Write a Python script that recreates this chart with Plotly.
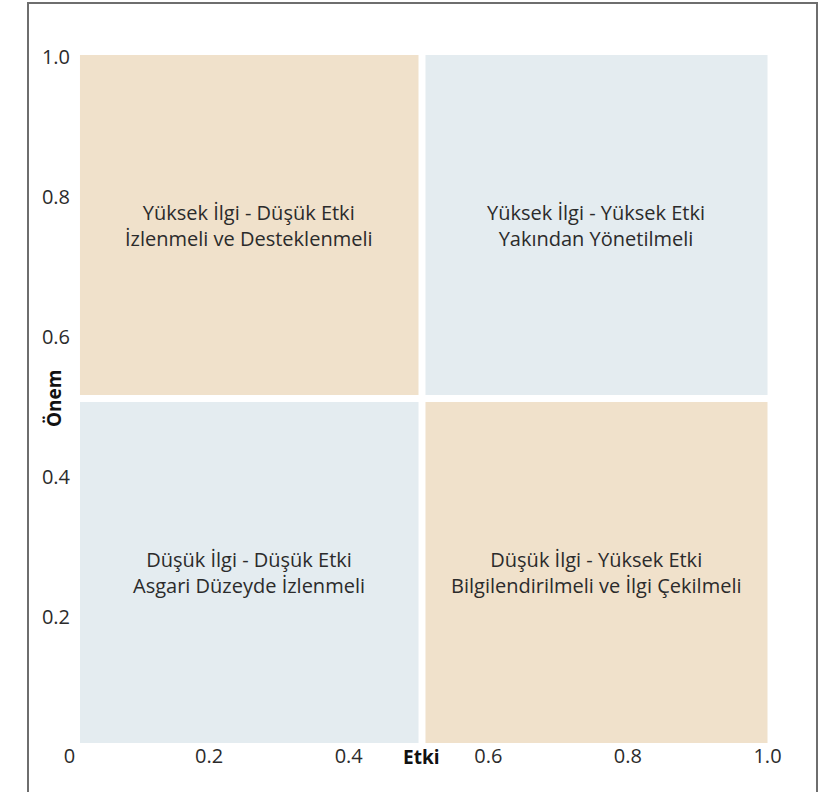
import plotly.graph_objects as go

# ---- data ----
quadrant_labels = [
    "Yüksek İlgi - Düşük Etki<br>İzlenmeli ve Desteklenmeli",
    "Yüksek İlgi - Yüksek Etki<br>Yakından Yönetilmeli",
    "Düşük İlgi - Düşük Etki<br>Asgari Düzeyde İzlenmeli",
    "Düşük İlgi - Yüksek Etki<br>Bilgilendirilmeli ve İlgi Çekilmeli",
]
quadrant_x0 = [0.015, 0.51, 0.015, 0.51]
quadrant_x1 = [0.50, 1.00, 0.50, 1.00]
quadrant_y0 = [0.517, 0.517, 0.02, 0.02]
quadrant_y1 = [1.003, 1.003, 0.507, 0.507]
quadrant_colors = ["#F0E1CB", "#E4ECF0", "#E4ECF0", "#F0E1CB"]

x_tickvals = [0, 0.2, 0.4, 0.6, 0.8, 1.0]
x_ticktext = ["0", "0.2", "0.4", "0.6", "0.8", "1.0"]
y_tickvals = [0.2, 0.4, 0.6, 0.8, 1.0]
y_ticktext = ["0.2", "0.4", "0.6", "0.8", "1.0"]
x_title = "Etki"
y_title = "Önem"

W, H = 820, 792
FONT = "Open Sans"
TXT = "#2b2b2b"

fig = go.Figure()

# invisible trace so axes render
fig.add_trace(go.Scatter(x=[0, 1], y=[0, 1], mode="markers",
                         marker=dict(opacity=0), hoverinfo="skip", showlegend=False))

for x0, x1, y0, y1, c, lab in zip(quadrant_x0, quadrant_x1, quadrant_y0,
                                  quadrant_y1, quadrant_colors, quadrant_labels):
    fig.add_shape(type="rect", xref="x", yref="y", x0=x0, x1=x1, y0=y0, y1=y1,
                  fillcolor=c, line=dict(width=0), layer="below")
    fig.add_annotation(x=(x0 + x1) / 2, y=(y0 + y1) / 2, xref="x", yref="y",
                       text=lab, showarrow=False,
                       font=dict(family=FONT, size=20, color=TXT))

# outer frame
fig.add_shape(type="rect", xref="paper", yref="paper",
              x0=28 / W, x1=817 / W, y0=-0.2, y1=(H - 3) / H,
              line=dict(color="#6e6e6e", width=2), fillcolor="rgba(0,0,0,0)")

# axis title annotations
fig.add_annotation(x=421 / W, y=(H - 757) / H, xref="paper", yref="paper",
                   xanchor="center", yanchor="middle",
                   text=f"<b>{x_title}</b>", showarrow=False,
                   font=dict(family=FONT, size=19, color="#111"))
fig.add_annotation(x=54 / W, y=(H - 398) / H, xref="paper", yref="paper",
                   xanchor="center", yanchor="middle",
                   text=f"<b>{y_title}</b>", showarrow=False, textangle=-90,
                   font=dict(family=FONT, size=19, color="#111"))

px0, pxu = 69.5, 698.0   # pixel of x=0, pixels per unit
py0, pyu = 757.0, 700.0  # pixel of y=0, pixels per unit
L, R = 60, 780
T, B = 40, 760

fig.update_layout(
    width=W, height=H,
    margin=dict(l=0, r=0, t=0, b=0),
    paper_bgcolor="white", plot_bgcolor="white",
    font=dict(family=FONT, size=17, color=TXT),
    xaxis=dict(domain=[L / W, R / W],
               range=[(L - px0) / pxu, (R - px0) / pxu],
               tickvals=x_tickvals, ticktext=x_ticktext,
               showgrid=False, zeroline=False, showline=False, ticks="",
               anchor="free", position=(H - 742) / H, automargin=False,
               tickfont=dict(family=FONT, size=20, color=TXT)),
    yaxis=dict(domain=[(H - B) / H, (H - T) / H],
               range=[(py0 - B) / pyu, (py0 - T) / pyu],
               tickvals=y_tickvals, ticktext=y_ticktext,
               showgrid=False, zeroline=False, showline=False, ticks="",
               anchor="free", position=70 / W, automargin=False,
               tickfont=dict(family=FONT, size=20, color=TXT)),
    showlegend=False,
)

fig.write_html("out.html", config={"displayModeBar": False},
               post_script="document.body.style.margin='0';")
